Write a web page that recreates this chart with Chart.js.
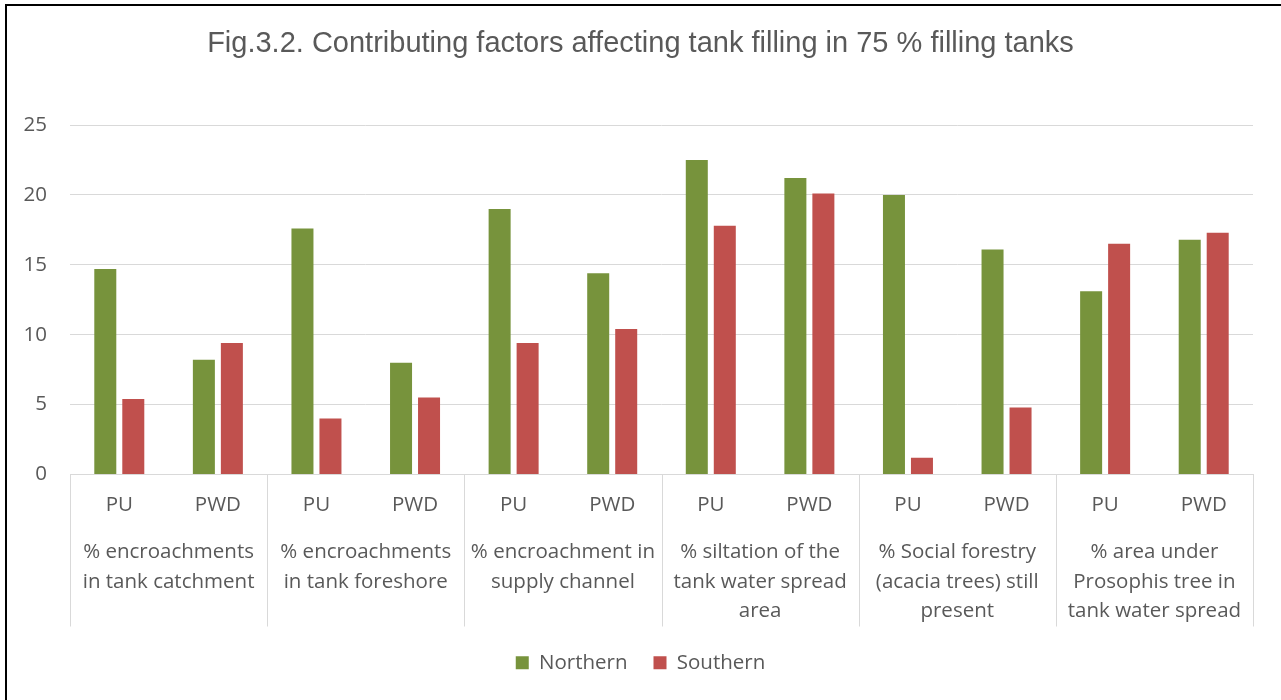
<!DOCTYPE html>
<html>
<head>
<meta charset="utf-8">
<script src="https://cdn.jsdelivr.net/npm/chart.js@4/dist/chart.umd.min.js"></script>
<style>
  body { margin: 0; background: #fff; }
  #wrap { position: relative; width: 1281px; height: 700px; }
  #frame { position: absolute; left: 5px; top: 4px; right: -10px; bottom: -10px;
           border-left: 2px solid #000; border-top: 2px solid #000; pointer-events: none; }
</style>
</head>
<body>
<div id="wrap">
  <canvas id="tankChart" width="1281" height="700"></canvas>
  <div id="frame"></div>
</div>
<script>
// sub categories along the axis
const subLabels = ["PU", "PWD", "PU", "PWD", "PU", "PWD", "PU", "PWD", "PU", "PWD", "PU", "PWD"];
// group labels (one per pair of bars)
const groupLabels = [
  ["% encroachments", "in tank catchment"],
  ["% encroachments", "in tank foreshore"],
  ["% encroachment in", "supply channel"],
  ["% siltation of the", "tank water spread", "area"],
  ["% Social forestry", "(acacia trees) still", "present"],
  ["% area under", "Prosophis tree in", "tank water spread"],
];
const northern = [14.7, 8.2, 17.6, 8.0, 19.0, 14.4, 22.5, 21.2, 20.0, 16.1, 13.1, 16.8];
const southern = [5.4, 9.4, 4.0, 5.5, 9.4, 10.4, 17.8, 20.1, 1.2, 4.8, 16.5, 17.3];
const yTicks = [0, 5, 10, 15, 20, 25];

const textColor = "#595959";
const gridColor = "#d9d9d9";
const tickFont = { family: "'Open Sans', sans-serif", size: 20.5 };

// vertical separators between the groups, under the axis
const groupLines = {
  id: "groupLines",
  afterDraw(chart) {
    const x = chart.scales.x;
    const x2 = chart.scales.x2;
    const ctx = chart.ctx;
    const half = (x.getPixelForValue(1) - x.getPixelForValue(0)) / 2;
    ctx.save();
    ctx.strokeStyle = gridColor;
    ctx.lineWidth = 1;
    for (let i = 0; i <= groupLabels.length; i++) {
      const px = Math.round(x.getPixelForValue(i * 2) - half) + 0.5;
      ctx.beginPath();
      ctx.moveTo(px, chart.chartArea.bottom);
      ctx.lineTo(px, x2.bottom);
      ctx.stroke();
    }
    ctx.restore();
  },
};

const ctx = document.getElementById("tankChart").getContext("2d");
const tankChart = new Chart(ctx, {
  type: "bar",
  data: {
    labels: subLabels,
    datasets: [
      {
        label: "Northern",
        data: northern,
        backgroundColor: "#77933c",
        categoryPercentage: 0.568,
        barPercentage: 0.786,
      },
      {
        label: "Southern",
        data: southern,
        backgroundColor: "#c0504d",
        categoryPercentage: 0.568,
        barPercentage: 0.786,
      },
    ],
  },
  options: {
    responsive: false,
    animation: false,
    layout: { padding: { left: 0, right: 0, top: 0, bottom: 17 } },
    plugins: {
      title: {
        display: true,
        text: "Fig.3.2. Contributing factors affecting tank filling in 75 % filling tanks",
        color: textColor,
        font: { family: "'Liberation Sans', Arial, sans-serif", size: 29, weight: "normal", lineHeight: 1.2 },
        padding: { top: 26.6, bottom: 63.6 },
      },
      legend: {
        display: true,
        position: "bottom",
        labels: {
          color: textColor,
          font: tickFont,
          boxWidth: 13,
          boxHeight: 13,
          padding: 26,
        },
      },
      tooltip: { enabled: false },
    },
    scales: {
      y: {
        min: 0,
        max: 25,
        afterBuildTicks: (s) => { s.ticks = yTicks.map((v) => ({ value: v })); },
        afterFit: (s) => { s.width = 70; },
        ticks: { color: textColor, font: tickFont, padding: 23 },
        grid: { color: gridColor, drawTicks: false },
        border: { display: false },
      },
      // empty right gutter so the title stays centred on the page
      yRight: {
        position: "right",
        display: true,
        min: 0,
        max: 25,
        afterFit: (s) => { s.width = 28; },
        ticks: { display: false },
        grid: { display: false, drawTicks: false },
        border: { display: false },
      },
      x: {
        afterFit: (s) => { s.height = 50; },
        ticks: { color: textColor, font: tickFont, padding: 18, maxRotation: 0, autoSkip: false },
        grid: { display: false, drawTicks: false },
        border: { color: gridColor },
      },
      x2: {
        type: "category",
        position: "bottom",
        labels: groupLabels,
        afterFit: (s) => { s.height = 102; },
        ticks: {
          color: textColor,
          font: { family: "'Open Sans', sans-serif", size: 20.5, lineHeight: 1.44 },
          padding: 13,
          maxRotation: 0,
          autoSkip: false,
        },
        grid: { display: false, drawTicks: false },
        border: { display: false },
      },
    },
  },
  plugins: [groupLines],
});
</script>
</body>
</html>
